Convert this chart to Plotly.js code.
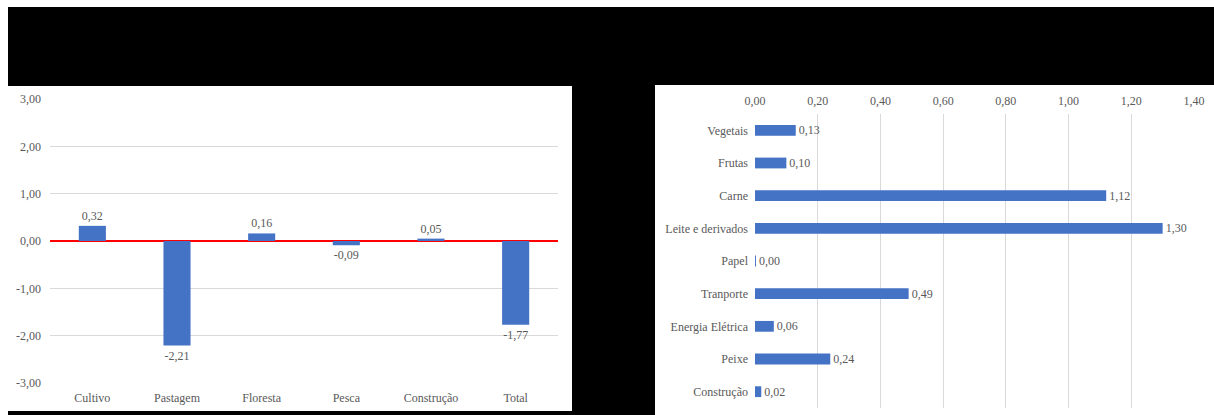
<!DOCTYPE html>
<html>
<head>
<meta charset="utf-8">
<script src="https://cdn.plot.ly/plotly-3.0.1.min.js"></script>
<style>
  html, body { margin: 0; padding: 0; background: #ffffff; width: 1214px; height: 415px; overflow: hidden; }
  #black { position: absolute; left: 8px; top: 7px; width: 1206px; height: 408px; background: #000000; }
  #left { position: absolute; left: 8px; top: 86px; width: 564px; height: 325px; background: #ffffff; }
  #right { position: absolute; left: 655px; top: 85px; width: 559px; height: 330px; background: #ffffff; }
</style>
</head>
<body>
<div id="black"></div>
<div id="left"></div>
<div id="right"></div>
<script>
// Left chart data
const leftCategories = ["Cultivo", "Pastagem", "Floresta", "Pesca", "Construção", "Total"];
const leftValues = [0.32, -2.21, 0.16, -0.09, 0.05, -1.77];
const leftTicks = [-3, -2, -1, 0, 1, 2, 3];

// Right chart data
const rightCategories = ["Vegetais", "Frutas", "Carne", "Leite e derivados", "Papel", "Tranporte", "Energia Elétrica", "Peixe", "Construção"];
const rightValues = [0.13, 0.10, 1.12, 1.30, 0.003, 0.49, 0.06, 0.24, 0.02];
const rightTicks = [0, 0.2, 0.4, 0.6, 0.8, 1.0, 1.2, 1.4];

const fmt = v => v.toFixed(2).replace(".", ",");

const FONT = "Liberation Serif";
const GREY = "#595959";
const BAR = "#4472C4";
const GRID = "#d9d9d9";

Plotly.newPlot("left", [{
  type: "bar",
  x: leftCategories,
  y: leftValues,
  marker: { color: BAR },
  text: leftValues.map(fmt),
  texttemplate: "%{text}",
  textposition: "outside",
  constraintext: "none",
  cliponaxis: false,
  textfont: { family: FONT, size: 12, color: GREY },
  hoverinfo: "none"
}], {
  width: 564, height: 325,
  margin: { l: 42, r: 14, t: 13, b: 28 },
  paper_bgcolor: "#ffffff", plot_bgcolor: "#ffffff",
  bargap: 0.68,
  showlegend: false,
  font: { family: FONT, size: 12, color: GREY },
  xaxis: {
    type: "category",
    showgrid: false, showline: false, zeroline: false, ticks: "",
    ticklabelstandoff: 6,
    tickfont: { family: FONT, size: 12, color: GREY }
  },
  yaxis: {
    range: [-3, 3],
    tickvals: leftTicks,
    ticktext: leftTicks.map(fmt),
    showgrid: true, gridcolor: GRID, gridwidth: 1,
    zeroline: true, zerolinecolor: "#ff0000", zerolinewidth: 2,
    showline: false, ticks: "",
    ticklabelstandoff: 8,
    tickfont: { family: FONT, size: 12, color: GREY }
  }
}, { staticPlot: true, displayModeBar: false });

Plotly.newPlot("right", [{
  type: "bar",
  orientation: "h",
  y: rightCategories,
  x: rightValues,
  marker: { color: BAR },
  text: rightValues.map(fmt),
  texttemplate: "%{text}",
  textposition: "outside",
  constraintext: "none",
  cliponaxis: false,
  textfont: { family: FONT, size: 12, color: GREY },
  hoverinfo: "none"
}], {
  width: 559, height: 330,
  margin: { l: 100, r: 20, t: 29, b: 7 },
  paper_bgcolor: "#ffffff", plot_bgcolor: "#ffffff",
  bargap: 0.67,
  showlegend: false,
  font: { family: FONT, size: 12, color: GREY },
  xaxis: {
    side: "top",
    range: [0, 1.4],
    tickvals: rightTicks,
    ticktext: rightTicks.map(fmt),
    showgrid: true, gridcolor: GRID, gridwidth: 1,
    zeroline: false, showline: false, ticks: "",
    ticklabelstandoff: 6,
    tickfont: { family: FONT, size: 12, color: GREY }
  },
  yaxis: {
    type: "category",
    autorange: "reversed",
    showgrid: false, zeroline: false, showline: false, ticks: "",
    ticklabelstandoff: 6,
    tickfont: { family: FONT, size: 12, color: GREY }
  }
}, { staticPlot: true, displayModeBar: false });
</script>
</body>
</html>
